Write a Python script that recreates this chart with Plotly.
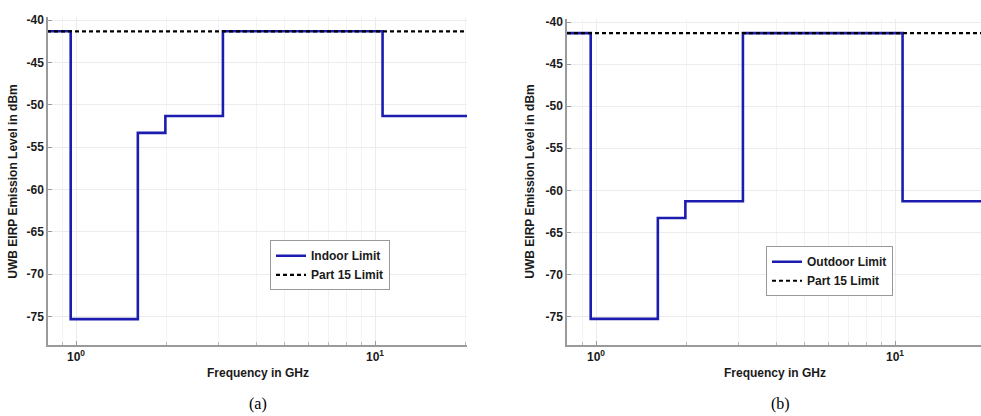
import plotly.graph_objects as go

# Data (FCC UWB emission masks)
freq_edges = [0.8, 0.96, 1.61, 1.99, 3.1, 10.6, 21.0]
indoor_levels = [-41.3, -75.3, -53.3, -51.3, -41.3, -51.3, -51.3]
outdoor_levels = [-41.3, -75.3, -63.3, -61.3, -41.3, -61.3, -61.3]
part15_freq = [0.8, 21.0]
part15_levels = [-41.3, -41.3]
y_ticks = [-40, -45, -50, -55, -60, -65, -70, -75]
x_tickvals = [1, 10]
x_ticktext = ["<b>10<sup>0</sup></b>", "<b>10<sup>1</sup></b>"]

W, H = 981, 416
BLUE = "#1c1cb0"
FONT = "Liberation Sans"
TXT = "#1a1a1a"

fig = go.Figure()

fig.add_trace(go.Scatter(x=freq_edges, y=indoor_levels, mode="lines", line_shape="hv",
                         line=dict(color=BLUE, width=2.6), name="<b>Indoor Limit</b>",
                         xaxis="x", yaxis="y", legend="legend"))
fig.add_trace(go.Scatter(x=part15_freq, y=part15_levels, mode="lines",
                         line=dict(color="black", width=2.2, dash="4px,3px"), name="<b>Part 15 Limit</b>",
                         xaxis="x", yaxis="y", legend="legend"))
fig.add_trace(go.Scatter(x=freq_edges, y=outdoor_levels, mode="lines", line_shape="hv",
                         line=dict(color=BLUE, width=2.6), name="<b>Outdoor Limit</b>",
                         xaxis="x2", yaxis="y2", legend="legend2"))
fig.add_trace(go.Scatter(x=part15_freq, y=part15_levels, mode="lines",
                         line=dict(color="black", width=2.2, dash="4px,3px"), name="<b>Part 15 Limit</b>",
                         xaxis="x2", yaxis="y2", legend="legend2"))

def xax(domain, rng):
    return dict(type="log", domain=domain, range=rng, tickvals=x_tickvals, ticktext=x_ticktext,
                showline=True, linecolor="#9a9a9a", linewidth=1.5, ticks="inside", ticklen=4,
                tickcolor="#9a9a9a", showgrid=True, gridcolor="#ececec", gridwidth=1,
                minor=dict(dtick="D1", ticks="inside", ticklen=3, tickcolor="#bbbbbb",
                           showgrid=True, gridcolor="#f3f3f3"),
                tickfont=dict(family=FONT, size=12, color=TXT), zeroline=False)

def yax(domain, rng, anchor):
    return dict(domain=domain, range=rng, tickvals=y_ticks, ticktext=[f"<b>{v}</b>" for v in y_ticks],
                showline=True, linecolor="#9a9a9a", linewidth=1.5, ticks="inside", ticklen=4,
                tickcolor="#9a9a9a", showgrid=True, gridcolor="#ececec", gridwidth=1,
                tickfont=dict(family=FONT, size=12, color=TXT), anchor=anchor, zeroline=False)

def note(text, x, y, size=12, angle=0, family=FONT, bold=True):
    return dict(text=f"<b>{text}</b>" if bold else text, x=x / W, y=1 - y / H, xref="paper", yref="paper",
                showarrow=False, textangle=angle, xanchor="center", yanchor="middle",
                font=dict(family=family, size=size, color=TXT if bold else "black"))

legend_style = dict(xanchor="left", yanchor="top", bgcolor="white", bordercolor="#999", borderwidth=1,
                    font=dict(family=FONT, size=12, color=TXT), tracegroupgap=0, itemwidth=30)

fig.update_layout(
    width=W, height=H, margin=dict(l=0, r=0, t=0, b=0),
    paper_bgcolor="white", plot_bgcolor="white",
    xaxis=dict(**xax([48 / W, 467 / W], [(48 - 76) / 299, (467 - 76) / 299]), anchor="y"),
    yaxis=yax([1 - 344 / H, 1 - 14 / H], [-78.3, -39.6], "x"),
    xaxis2=dict(**xax([567 / W, 1.0], [(567 - 596) / 299, (981 - 596) / 299]), anchor="y2"),
    yaxis2=yax([1 - 344 / H, 1 - 16 / H], [-78.35, -39.6], "x2"),
    legend=dict(x=270 / W, y=1 - 239 / H, **legend_style),
    legend2=dict(x=766 / W, y=1 - 245 / H, **legend_style),
    annotations=[
        note("Frequency in GHz", 258, 373),
        note("Frequency in GHz", 775, 373),
        note("UWB EIRP Emission Level in dBm", 13, 180, angle=-90),
        note("UWB EIRP Emission Level in dBm", 530, 180, angle=-90),
        note("(a)", 258, 404, size=16, family="Liberation Serif", bold=False),
        note("(b)", 780, 404, size=16, family="Liberation Serif", bold=False),
    ],
)

fig.write_html("out.html", config={"displayModeBar": False},
               post_script="document.body.style.margin='0';document.body.style.padding='0';")
